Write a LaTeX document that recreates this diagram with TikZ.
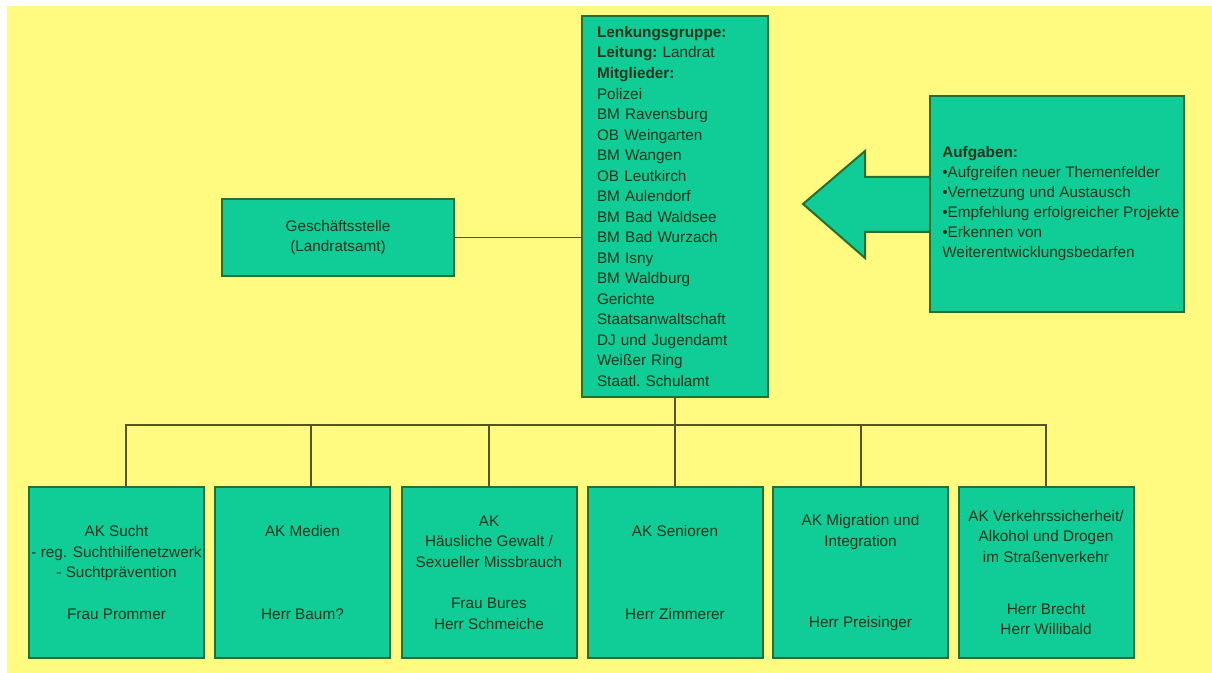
\documentclass[tikz,border=0pt]{standalone}
\usepackage{fontspec}
\setmainfont{Liberation Sans}

\definecolor{bgYellow}{RGB}{255,250,128}
\definecolor{boxTeal}{RGB}{16,204,150}
\definecolor{boxEdge}{RGB}{40,110,50}
\definecolor{lineOlive}{RGB}{85,85,35}
\definecolor{textDark}{RGB}{25,55,30}

\tikzset{
    orgbox/.style={draw=boxEdge, fill=boxTeal, line width=1.5pt, text=textDark, align=center, inner sep=0pt},
    akbox/.style={orgbox, minimum width=131.25pt, minimum height=128.25pt},
    link/.style={draw=lineOlive, line width=1.4pt},
}

\begin{document}
\begin{tikzpicture}[x=0.75pt, y=-0.75pt, font=\fontsize{11.5}{15.4}\selectfont]
        %% Background
        \useasboundingbox (0,0) rectangle (1212,673);
        \fill[white] (0,0) rectangle (1212,673);
        \fill[bgYellow] (7,6) rectangle (1212,673);
        %% Lenkungsgruppe
        \node[orgbox, align=left, text width=117pt, inner xsep=11.25pt, minimum height=285.75pt] (lg) at (675,206.5)
            {\textbf{Lenkungsgruppe:}\\\textbf{Leitung:}\ Landrat\\\textbf{Mitglieder:}\\Polizei\\BM Ravensburg\\OB Weingarten\\BM Wangen\\OB Leutkirch\\BM Aulendorf\\BM Bad Waldsee\\BM Bad Wurzach\\BM Isny\\BM Waldburg\\Gerichte\\Staatsanwaltschaft\\DJ und Jugendamt\\Weißer Ring\\Staatl.\ Schulamt};
        %% Geschaeftsstelle
        \node[orgbox, minimum width=174pt, minimum height=57.75pt] (gs) at (338,237.5) {Geschäftsstelle\\(Landratsamt)};
        %% Arrow and Aufgaben
        \draw[draw=boxEdge, fill=boxTeal, line width=1.5pt] (930,177) -- (865,177) -- (865,151) -- (803,204) -- (865,258) -- (865,232) -- (930,232);
        \node[orgbox, minimum width=190.5pt, minimum height=162pt] (auf) at (1057,204) {};
        \node[anchor=west, align=left, text=textDark, inner sep=0pt, font=\fontsize{11.5}{15}\selectfont] (aufText) at ([xshift=9.75pt]auf.west)
            {\textbf{Aufgaben:}\\\textbullet Aufgreifen neuer Themenfelder\\\textbullet Vernetzung und Austausch\\\textbullet Empfehlung erfolgreicher Projekte\\\textbullet Erkennen von\\ Weiterentwicklungsbedarfen};
        %% Arbeitskreise
        \node[akbox] (ak1) at (116.5,572.5) {AK Sucht\\- reg. Suchthilfenetzwerk\\- Suchtprävention\\[15.4pt]Frau Prommer};
        \node[akbox] (ak2) at (302.5,572.5) {AK Medien\\[46.85pt]Herr Baum?};
        \node[akbox] (ak3) at (489,572.5) {AK\\Häusliche Gewalt /\\Sexueller Missbrauch\\[15.4pt]Frau Bures\\Herr Schmeiche};
        \node[akbox] (ak4) at (675,572.5) {AK Senioren\\[46.85pt]Herr Zimmerer};
        \node[akbox] (ak5) at (860.5,572.5) {AK Migration und\\Integration\\[45.35pt]Herr Preisinger};
        \node[akbox] (ak6) at (1046,572.5) {AK Verkehrssicherheit/\\Alkohol und Drogen\\im Straßenverkehr\\[23.6pt]Herr Brecht\\Herr Willibald};
        %% Connectors
        \coordinate (bus) at (675,425);
        \draw[link] (gs.east) -- (gs.east -| lg.west);
        \draw[link] (lg.south) -- (bus);
        \draw[link] ([xshift=7pt]ak1.north) |- (bus);
        \draw[link] ([xshift=6.4pt]ak2.north) |- (bus);
        \draw[link] (ak3.north) |- (bus);
        \draw[link] (ak4.north) -- (bus);
        \draw[link] ([xshift=0.4pt]ak5.north) |- (bus);
        \draw[link] (ak6.north) |- (bus);
    \end{tikzpicture}
\end{document}
